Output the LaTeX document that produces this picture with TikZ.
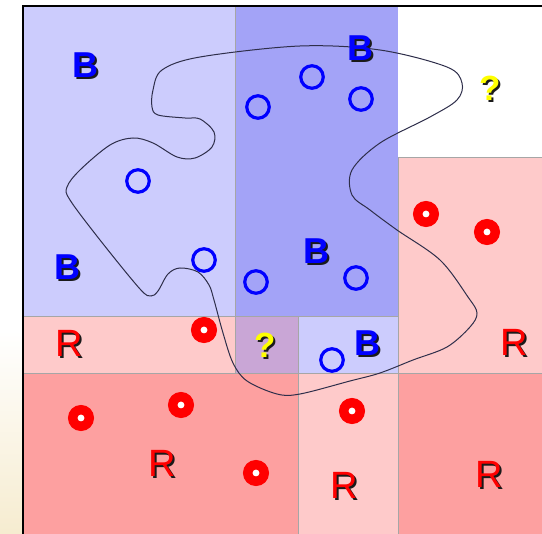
\documentclass[tikz,border=0pt]{standalone}
\usepackage{fontspec}
\setmainfont{Liberation Sans}
\definecolor{lblue}{HTML}{CCCCFD}
\definecolor{mblue}{HTML}{A3A3F7}
\definecolor{lpink}{HTML}{FECACA}
\definecolor{dpink}{HTML}{FDA0A0}
\definecolor{mauve}{HTML}{C9A6D6}
\definecolor{cream}{HTML}{F6ECD0}
\definecolor{curvec}{HTML}{2E2E4A}
\definecolor{qyellow}{HTML}{FFFF00}
\definecolor{shadowc}{HTML}{1A1A1A}
\tikzset{
  cell/.style={draw=black!35, line width=0.6pt},
  bcirc/.style={circle, draw=blue, line width=3.2pt, minimum size=22.5pt, inner sep=0pt},
  rring/.style={circle, draw=red, fill=white, line width=9.5pt, minimum size=16.5pt, inner sep=0pt},
  lblB/.style={font=\fontsize{36}{36}\selectfont\bfseries, inner sep=0pt},
  lblR/.style={font=\fontsize{38}{38}\selectfont, inner sep=0pt},
  lblQ/.style={font=\fontsize{35}{35}\selectfont\bfseries, inner sep=0pt},
}
\newcommand{\shtext}[2]{\makebox[0pt][l]{\hspace{2pt}\raisebox{-2pt}{\textcolor{shadowc}{#2}}}\textcolor{#1}{#2}}
\begin{document}
\begin{tikzpicture}[x=1pt,y=-1pt]
\useasboundingbox (0,0) rectangle (542,534);
% left cream gradient
\shade[top color=white, bottom color=cream] (0,330) rectangle (22,534);
% cells
\fill[white] (23,6) rectangle (542,534);
\draw[cell, fill=lblue] (23,6) rectangle (235,316);
\draw[cell, fill=mblue] (235,6) rectangle (398,316);
\fill[white] (398,6) rectangle (542,157);
\draw[cell, fill=lpink] (398,157) rectangle (542,373);
\draw[cell, fill=lpink] (23,316) rectangle (235,373);
\draw[cell, fill=mauve] (235,316) rectangle (298,373);
\draw[cell, fill=lblue] (298,316) rectangle (398,373);
\draw[cell, fill=dpink] (23,373) rectangle (298,534);
\draw[cell, fill=lpink] (298,373) rectangle (398,534);
\draw[cell, fill=dpink] (398,373) rectangle (542,534);
% frame
\draw[black, line width=2pt] (23,534) -- (23,6) -- (542,6);
% boundary curve
\draw[curvec, line width=1pt] plot[smooth cycle, tension=0.55] coordinates {
 (153,90) (162,70) (200,57) (300,46) (380,50) (447,67) (462,83) (457,100)
 (430,117) (380,143) (352,170) (352,195) (370,210) (397,230) (440,260)
 (468,297) (477,313) (470,327) (447,347) (413,360) (380,373) (350,381)
 (300,394) (277,394) (247,381) (233,363) (223,333) (214,300) (209,285)
 (198,272) (180,268) (168,274) (158,291) (151,296) (140,289) (100,240)
 (70,200) (67,187) (80,170) (110,145) (133,138) (153,143) (177,157)
 (195,158) (212,147) (214,132) (200,119) (185,118) (158,115) (152,107)};
% blue circles
\node[bcirc] (b1) at (138,181) {};
\node[bcirc] (b2) at (258,107) {};
\node[bcirc] (b3) at (312,77) {};
\node[bcirc] (b4) at (361,99) {};
\node[bcirc] (b5) at (204,260) {};
\node[bcirc] (b6) at (256,282) {};
\node[bcirc] (b7) at (356,278) {};
\node[bcirc] (b8) at (332,360) {};
% red rings
\node[rring] (r1) at (426,214) {};
\node[rring] (r2) at (487,232) {};
\node[rring] (r3) at (204,330) {};
\node[rring] (r4) at (81,418) {};
\node[rring] (r5) at (181,405) {};
\node[rring] (r6) at (256,473) {};
\node[rring] (r7) at (352,411) {};
% labels
\node[lblB] (lb1) at (85,66) {\shtext{blue}{B}};
\node[lblB] (lb2) at (360,49) {\shtext{blue}{B}};
\node[lblB] (lb3) at (67,268) {\shtext{blue}{B}};
\node[lblB] (lb4) at (316,252) {\shtext{blue}{B}};
\node[lblB] (lb5) at (367,344) {\shtext{blue}{B}};
\node[lblR] (lr1) at (69,344) {\shtext{red}{R}};
\node[lblR] (lr2) at (514,343) {\shtext{red}{R}};
\node[lblR] (lr3) at (162,464) {\shtext{red}{R}};
\node[lblR] (lr4) at (344,486) {\shtext{red}{R}};
\node[lblR] (lr5) at (489,475) {\shtext{red}{R}};
\node[lblQ] (lq1) at (490,89) {\shtext{qyellow}{?}};
\node[lblQ] (lq2) at (265,346) {\shtext{qyellow}{?}};
\end{tikzpicture}
\end{document}
